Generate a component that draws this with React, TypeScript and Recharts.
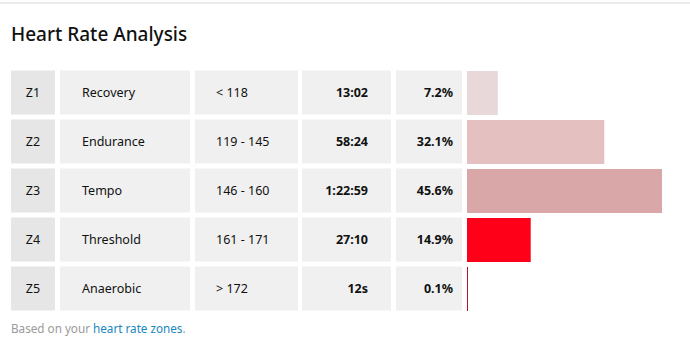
import { BarChart, Bar, XAxis, YAxis, Cell } from "recharts";

const zones = ["Z1", "Z2", "Z3", "Z4", "Z5"];
const names = ["Recovery", "Endurance", "Tempo", "Threshold", "Anaerobic"];
const ranges = ["< 118", "119 - 145", "146 - 160", "161 - 171", "> 172"];
const times = ["13:02", "58:24", "1:22:59", "27:10", "12s"];
const percents = [7.2, 32.1, 45.6, 14.9, 0.1];
const barColors = ["#e8d8da", "#e5c0c1", "#d9a7a8", "#ff0019", "#b3162a"];

const data = zones.map((z, i) => ({
  zone: z,
  name: names[i],
  range: ranges[i],
  time: times[i],
  pct: percents[i],
}));

const FONT = "'Noto Sans', sans-serif";

function RowTick({ y, payload }: { y?: number; payload?: { value: string; index: number } }) {
  if (y == null || !payload) return null;
  const row = data.find((d) => d.zone === payload.value);
  if (!row) return null;
  const top = y - 22;
  const h = 44;
  return (
    <g fontFamily={FONT} fontSize={12.5}>
      <rect x={11} y={top} width={44} height={h} fill="#e6e6e6" />
      <rect x={60} y={top} width={130} height={h} fill="#f0f0f0" />
      <rect x={195} y={top} width={103} height={h} fill="#f0f0f0" />
      <rect x={302} y={top} width={89} height={h} fill="#f0f0f0" />
      <rect x={396} y={top} width={66} height={h} fill="#f0f0f0" />
      <text x={33} y={y} textAnchor="middle" dominantBaseline="central" fill="#111">
        {row.zone}
      </text>
      <text x={82} y={y} dominantBaseline="central" fill="#111">
        {row.name}
      </text>
      <text x={216} y={y} dominantBaseline="central" fill="#111">
        {row.range}
      </text>
      <text x={368} y={y} textAnchor="end" dominantBaseline="central" fontWeight={700} fill="#111">
        {row.time}
      </text>
      <text x={453} y={y} textAnchor="end" dominantBaseline="central" fontWeight={700} fill="#111">
        {row.pct.toFixed(1)}%
      </text>
    </g>
  );
}

export default function App() {
  return (
    <div style={{ position: "absolute", left: 0, top: 0, width: 690, height: 351, background: "#fff", fontFamily: FONT }}>
      <div style={{ position: "absolute", left: 0, top: 2, width: 690, height: 2, background: "#ebebeb" }} />
      <div style={{ position: "absolute", left: 11, top: 21, fontSize: 19, fontWeight: 500, color: "#111", lineHeight: "26px" }}>
        Heart Rate Analysis
      </div>
      <BarChart
        width={690}
        height={351}
        data={data}
        layout="vertical"
        margin={{ top: 68, right: 28, bottom: 38, left: 0 }}
      >
        <XAxis type="number" domain={[0, 45.6]} hide />
        <YAxis
          type="category"
          dataKey="zone"
          width={467}
          axisLine={false}
          tickLine={false}
          tick={<RowTick />}
          interval={0}
        />
        <Bar dataKey="pct" barSize={44} minPointSize={1} isAnimationActive={false}>
          {data.map((d, i) => (
            <Cell key={d.zone} fill={barColors[i]} />
          ))}
        </Bar>
      </BarChart>
      <div style={{ position: "absolute", left: 11, top: 319, fontSize: 11.7, color: "#9a9a9a", lineHeight: "18px" }}>
        Based on your <span style={{ color: "#1787c0" }}>heart rate zones</span>.
      </div>
    </div>
  );
}
